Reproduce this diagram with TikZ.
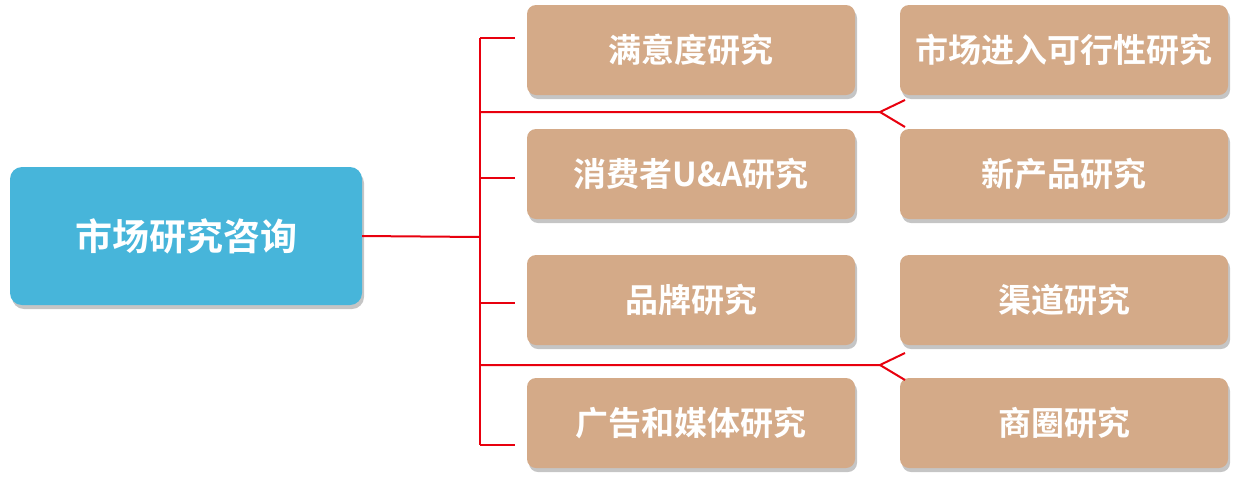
\documentclass[tikz,border=0pt]{standalone}
\usepackage{fontspec}
\setmainfont{Noto Sans CJK SC Bold}
\usetikzlibrary{shadows}
\definecolor{tan}{HTML}{D4AA88}
\definecolor{sky}{HTML}{47B5DA}
\definecolor{lnk}{HTML}{E8000E}
\begin{document}
\begin{tikzpicture}[x=1pt,y=-1pt,
  box/.style={fill=tan,rounded corners=9pt,minimum width=328pt,minimum height=90pt,text=white,font=\fontsize{33}{36}\selectfont,drop shadow={shadow xshift=2pt,shadow yshift=-4pt,opacity=0.45}},
  root/.style={fill=sky,rounded corners=12pt,minimum width=352pt,minimum height=138pt,text=white,font=\fontsize{37}{40}\selectfont,drop shadow={shadow xshift=2pt,shadow yshift=-4pt,opacity=0.45}},
  lk/.style={draw=lnk,line width=2pt}]
\useasboundingbox (0,0) rectangle (1239,488);
\fill[white] (0,0) rectangle (1239,488);
\node[root] (r) at (186,236) {市场研究咨询};
\node[box] (a1) at (691,50) {满意度研究};
\node[box] (b1) at (1064,50) {市场进入可行性研究};
\node[box] (a2) at (691,174) {消费者U\&A研究};
\node[box] (b2) at (1064,174) {新产品研究};
\node[box] (a3) at (691,300) {品牌研究};
\node[box] (b3) at (1064,300) {渠道研究};
\node[box] (a4) at (691,423) {广告和媒体研究};
\node[box] (b4) at (1064,423) {商圈研究};
\coordinate (j) at (480,237);
\coordinate (f1) at (880,112);
\coordinate (f2) at (880,365);
\draw[lk] (r.east) -- (j);
\draw[lk] (480,38) -- (480,445);
\foreach \y in {38,178,303,445} \draw[lk] (480,\y) -- (515,\y);
\draw[lk] (480,112) -- (f1) -- (905,100); \draw[lk] (f1) -- (905,127);
\draw[lk] (480,365) -- (f2) -- (905,353); \draw[lk] (f2) -- (905,380);
\end{tikzpicture}
\end{document}
